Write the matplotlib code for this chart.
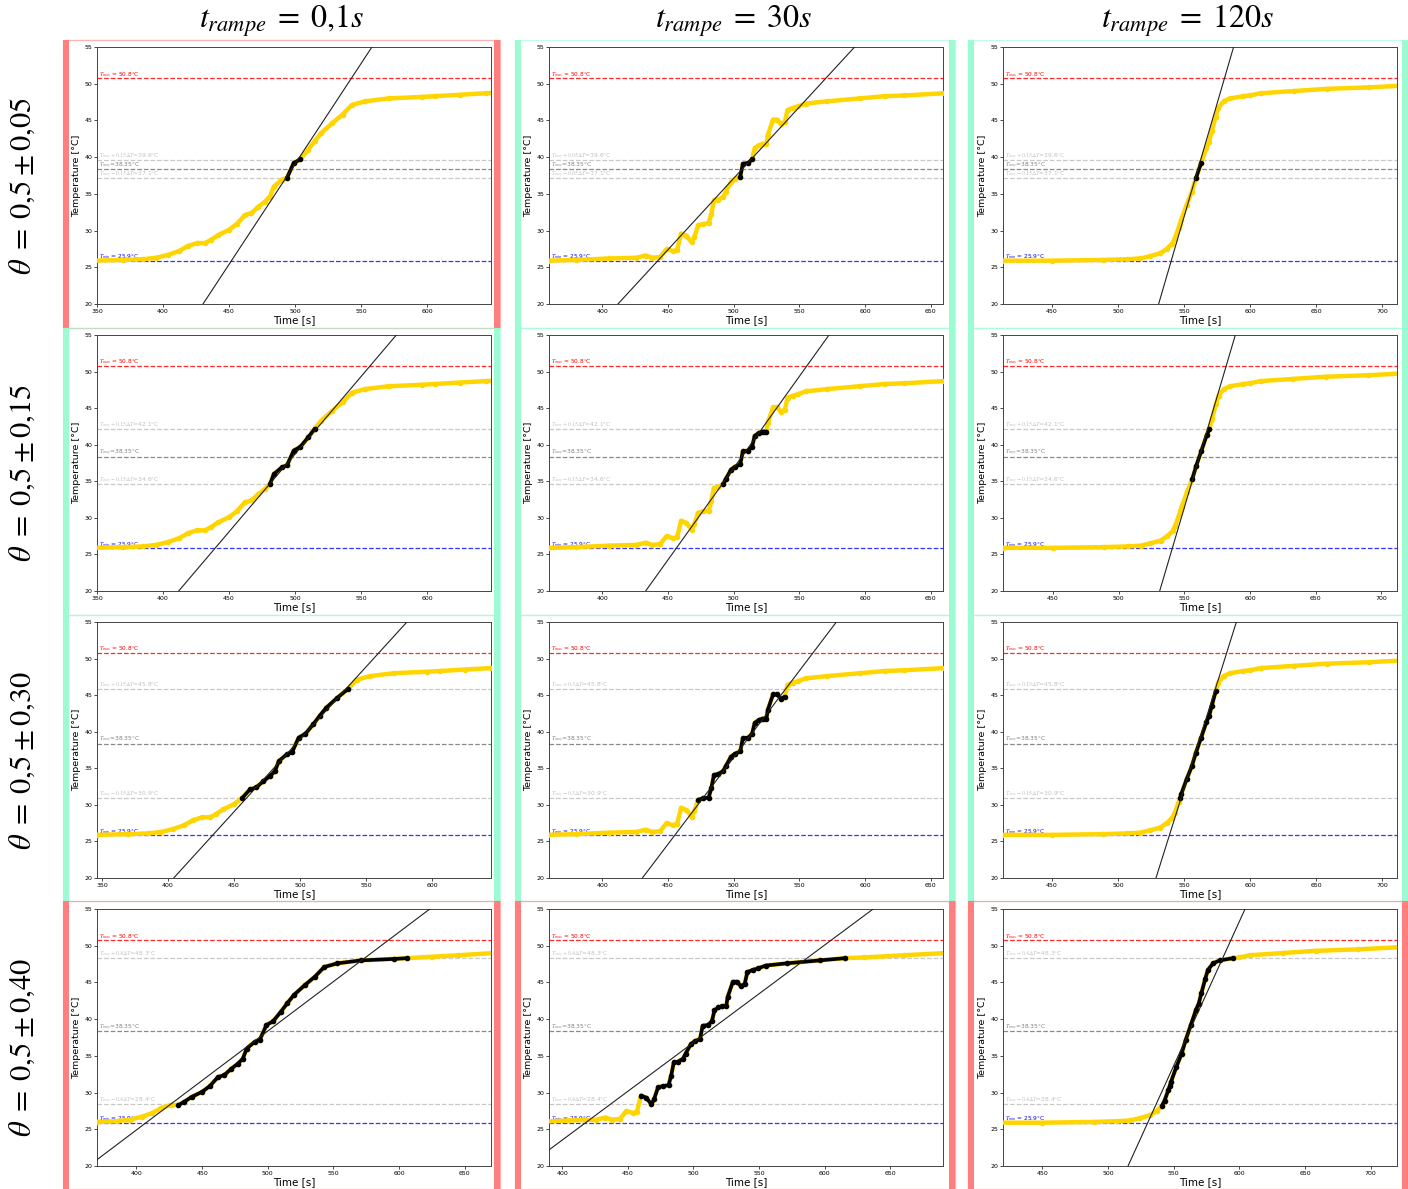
import matplotlib
matplotlib.use('Agg')
import matplotlib.pyplot as plt
from matplotlib.patches import Rectangle
from matplotlib.ticker import MultipleLocator
import numpy as np

plt.rcParams['mathtext.fontset'] = 'stix'

W, H = 1408, 1189

# ---- data ----
ramp_titles = [r'$t_{rampe}\;=\;0{,}1s$', r'$t_{rampe}\;=\;30s$', r'$t_{rampe}\;=\;120s$']
theta_titles = [r'$\theta\;=\;0{,}5\pm0{,}05$', r'$\theta\;=\;0{,}5\pm0{,}15$',
                r'$\theta\;=\;0{,}5\pm0{,}30$', r'$\theta\;=\;0{,}5\pm0{,}40$']

# one measured curve per ramp time (column)
t_c1 = [346, 370, 385, 395, 404, 412, 419, 426, 432, 436, 442, 450, 456, 462, 467, 472, 477, 481,
        484, 490, 494, 499, 504, 510, 515, 520, 528, 536, 543, 553, 571, 596, 606, 625, 645, 672]
T_c1 = [25.9, 26.0, 26.1, 26.3, 26.7, 27.2, 27.9, 28.3, 28.3, 28.7, 29.4, 30.1, 30.9, 32.1, 32.4, 33.2,
        33.9, 34.6, 36.0, 36.9, 37.2, 39.2, 39.7, 41.0, 42.2, 43.3, 44.6, 45.8, 47.1, 47.6, 48.0, 48.2,
        48.3, 48.5, 48.7, 49.0]
t_c2 = [359, 380, 405, 426, 433, 438, 444, 449, 454, 457, 460, 464, 468, 470, 473, 477, 481, 483, 485,
        488, 492, 494, 498, 501, 505, 507, 511, 514, 516, 519, 522, 525, 526, 530, 533, 536, 539, 541,
        545, 549, 555, 571, 596, 615, 630, 660, 692]
T_c2 = [25.9, 26.0, 26.2, 26.3, 26.6, 26.3, 26.4, 27.5, 27.2, 27.4, 29.6, 29.3, 28.4, 29.1, 30.7, 30.9,
        31.0, 32.3, 34.1, 34.2, 34.6, 35.3, 36.6, 37.0, 37.3, 39.1, 39.2, 39.7, 41.2, 41.6, 41.8, 41.8,
        43.0, 45.1, 45.1, 44.5, 44.8, 46.4, 46.7, 46.9, 47.3, 47.6, 48.0, 48.3, 48.4, 48.7, 49.0]
t_c3 = [412, 450, 489, 507, 517, 524, 532, 537, 541, 543, 546, 547, 548, 552, 556, 559, 563, 567, 569,
        571, 574, 576, 580, 585, 595, 600, 608, 633, 658, 690, 722]
T_c3 = [25.9, 25.9, 26.0, 26.1, 26.2, 26.5, 26.9, 27.5, 28.2, 28.9, 30.4, 30.9, 31.5, 33.5, 35.3, 37.1,
        39.2, 41.3, 42.1, 43.5, 45.5, 46.7, 47.6, 48.0, 48.3, 48.4, 48.7, 49.0, 49.3, 49.5, 49.8]
curves = [(t_c1, T_c1), (t_c2, T_c2), (t_c3, T_c3)]

T_min, T_max, T_moy = 25.9, 50.8, 38.35
band_hi = [39.6, 42.1, 45.8, 48.3]
band_lo = [37.1, 34.6, 30.9, 28.4]
theta_txt = [['0.15', '0.05', '0.15'],
             ['0.15', '0.15', '0.15'],
             ['0.15', '0.3', '0.15'],
             ['0.4', '0.4', '0.4']]
xlims = [[(350, 648.5), (359.4, 659.4), (412.9, 711.4)],
         [(350, 648.5), (359.4, 659.4), (411.9, 711.9)],
         [(346.2, 644.7), (359.4, 659.4), (412.9, 711.4)],
         [(370, 670), (390, 690), (420, 720)]]
# time window of the points used for the fit (black points)
fit_windows = [[(494, 504), (505, 514), (559, 563)],
               [(481, 515), (492, 525), (555, 569)],
               [(456, 536), (473, 539), (547, 575)],
               [(432, 606), (460, 615), (541, 598)]]
# fitted line: time at T=20 and time at T=55
fit_lines = [[(430.3, 558.3), (411.9, 592.1), (530.8, 587.6)],
             [(411.9, 576.8), (433.0, 572.6), (531.2, 588.8)],
             [(404.3, 581.0), (430.5, 578.2), (528.8, 589.7)],
             [(363.6, 623.4), (373.5, 636.8), (515.2, 604.3)]]
frame_colors = [['red', 'green', 'green'],
                ['green', 'green', 'green'],
                ['green', 'green', 'green'],
                ['red', 'red', 'red']]

# ---- layout (pixels) ----
ax_cols = [(97, 491), (549, 943), (1003, 1397)]
ax_rows = [(47, 304), (335, 591), (622, 878), (909, 1166)]
cell_cols = [(63, 500), (515, 955), (968, 1408)]
cell_rows = [(40, 328), (328, 615), (615, 901), (901, 1189)]
col_hex = {'red': '#ff7f7f', 'green': '#9cfbd2'}
gold = '#ffd500'

fig = plt.figure(figsize=(W / 100, H / 100), dpi=100)


def fx(px):
    return px / W


def fy(py):
    return 1 - py / H


# coloured frames round each panel
for i, (r0, r1) in enumerate(cell_rows):
    for j, (c0, c1) in enumerate(cell_cols):
        c = col_hex[frame_colors[i][j]]
        fig.add_artist(Rectangle((fx(c0), fy(r1)), fx(c1 - c0), (r1 - r0) / H, transform=fig.transFigure,
                                 facecolor='none', edgecolor=c, lw=0.9, alpha=0.6))
        for bx in (c0, c1 - 6):
            fig.add_artist(Rectangle((fx(bx), fy(r1)), fx(6), (r1 - r0) / H, transform=fig.transFigure,
                                     facecolor=c, edgecolor='none'))

for j, title in enumerate(ramp_titles):
    cx = (ax_cols[j][0] + ax_cols[j][1]) / 2 - 12
    fig.text(fx(cx), fy(21), title, ha='center', va='center', fontsize=23)
for i, title in enumerate(theta_titles):
    cy = (cell_rows[i][0] + cell_rows[i][1]) / 2 + 2
    fig.text(fx(22), fy(cy), title, ha='center', va='center', fontsize=22, rotation=90)

for i in range(4):
    for j in range(3):
        a0, a1 = ax_cols[j]
        b0, b1 = ax_rows[i]
        ax = fig.add_axes([fx(a0), fy(b1), fx(a1 - a0), (b1 - b0) / H])
        t = np.array(curves[j][0])
        T = np.array(curves[j][1])
        x0, x1 = xlims[i][j]
        span = x1 - x0

        # reference lines
        ax.axhline(T_max, color='#ff2a2a', ls='--', lw=0.9)
        ax.axhline(T_min, color='#3535ff', ls='--', lw=0.9)
        ax.axhline(T_moy, color='#8a8a8a', ls='--', lw=0.9)
        ax.axhline(band_hi[i], color='#c8c8c8', ls='--', lw=0.9)
        ax.axhline(band_lo[i], color='#c8c8c8', ls='--', lw=0.9)
        lx = x0 + 0.006 * span
        ax.text(lx, T_max + 0.3, r'$T_{max}$ = %.1f°C' % T_max, color='red', fontsize=4.2)
        ax.text(lx, T_min + 0.3, r'$T_{min}$ = %.1f°C' % T_min, color='blue', fontsize=4.2)
        ax.text(lx, T_moy + 0.3, r'$T_{moy}$=38.35°C', color='gray', fontsize=4.2)
        th = theta_txt[i][j]
        ax.text(lx, band_hi[i] + 0.3, r'$T_{moy}+%s\Delta T$=%.1f°C' % (th, band_hi[i]),
                color='#c0c0c0', fontsize=4.2)
        ax.text(lx, band_lo[i] + 0.3, r'$T_{moy}-%s\Delta T$=%.1f°C' % (th, band_lo[i]),
                color='#c0c0c0', fontsize=4.2)

        # measured curve and fitted points
        ax.plot(t, T, '-', color=gold, lw=3.2, solid_capstyle='round', zorder=3)
        ax.plot(t, T, 'o', color=gold, ms=3.0, zorder=3)
        w0, w1 = fit_windows[i][j]
        m = (t >= w0) & (t <= w1)
        ax.plot(t[m], T[m], '-', color='black', lw=2.6, solid_capstyle='round', zorder=4)
        ax.plot(t[m], T[m], 'o', color='black', ms=3, zorder=4)
        f20, f55 = fit_lines[i][j]
        ax.axline((f20, 20), (f55, 55), color='#222222', lw=0.8, zorder=5)

        ax.set_xlim(x0, x1)
        ax.set_ylim(20, 55)
        ax.xaxis.set_major_locator(MultipleLocator(50))
        ax.yaxis.set_major_locator(MultipleLocator(5))
        ax.tick_params(labelsize=4.5, length=2, width=0.5, pad=1.5)
        for s in ax.spines.values():
            s.set_linewidth(0.7)
            s.set_color('#444444')
        ax.set_xlabel('Time [s]', fontsize=7.5, labelpad=1)
        ax.set_ylabel('Temperature [°C]', fontsize=6.8, labelpad=2)

fig.savefig('out.png', dpi=100)
